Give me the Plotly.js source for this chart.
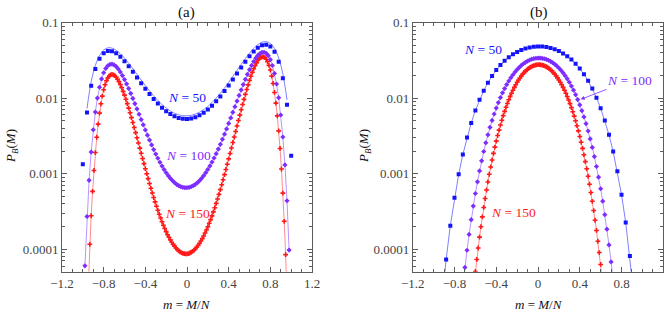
<!DOCTYPE html>
<html>
<head>
<meta charset="utf-8">
<script src="https://cdn.plot.ly/plotly-3.0.1.min.js"></script>
<style>
body{margin:0;background:#fff}
#chart svg text{font-family:"Times New Roman","Liberation Serif",serif !important;}
</style>
</head>
<body>
<div id="chart" style="width:671px;height:314px"></div>
<script>
// ---------- data: panel (a) ----------
const m50 = [-1,-0.96,-0.92,-0.88,-0.84,-0.8,-0.76,-0.72,-0.68,-0.64,-0.6,-0.56,-0.52,-0.48,-0.44,-0.4,-0.36,-0.32,-0.28,-0.24,-0.2,-0.16,-0.12,-0.08,-0.04,0,0.04,0.08,0.12,0.16,0.2,0.24,0.28,0.32,0.36,0.4,0.44,0.48,0.52,0.56,0.6,0.64,0.68,0.72,0.76,0.8,0.84,0.88,0.92,0.96,1];
const pA50 = [0.00134,0.006468,0.0146,0.02441,0.03334,0.03953,0.04227,0.04191,0.03928,0.03535,0.03089,0.02646,0.02239,0.01884,0.01584,0.01336,0.01136,0.009755,0.00849,0.007498,0.00674,0.006169,0.005758,0.005487,0.00534,0.005309,0.005394,0.005598,0.005934,0.006421,0.007085,0.007963,0.009105,0.01057,0.01243,0.01477,0.01768,0.02124,0.0255,0.03043,0.03589,0.04148,0.04657,0.05017,0.05112,0.04829,0.04114,0.03041,0.01837,0.008224,0.00173];

const mLineA50 = [-0.96,-0.92,-0.88,-0.84,-0.8,-0.76,-0.72,-0.68,-0.64,-0.6,-0.56,-0.52,-0.48,-0.44,-0.4,-0.36,-0.32,-0.28,-0.24,-0.2,-0.16,-0.12,-0.08,-0.04,0,0.04,0.08,0.12,0.16,0.2,0.24,0.28,0.32,0.36,0.4,0.44,0.48,0.52,0.56,0.6,0.64,0.68,0.72,0.76,0.8,0.84,0.88,0.92,0.96];
const pLineA50 = [0.0073,0.0165,0.0271,0.0367,0.0435,0.0465,0.0461,0.0432,0.0389,0.034,0.0291,0.0246,0.0207,0.01742,0.0147,0.0125,0.01073,0.00934,0.00825,0.00741,0.00679,0.00633,0.00604,0.00587,0.00584,0.00593,0.00616,0.00653,0.00706,0.00779,0.00876,0.01002,0.01163,0.01367,0.01625,0.01945,0.0234,0.0281,0.0335,0.0395,0.0456,0.0512,0.0552,0.0562,0.0531,0.0457,0.0341,0.0209,0.0095];

const mA100 = [-0.98,-0.96,-0.94,-0.92,-0.9,-0.88,-0.86,-0.84,-0.82,-0.8,-0.78,-0.76,-0.74,-0.72,-0.7,-0.68,-0.66,-0.64,-0.62,-0.6,-0.58,-0.56,-0.54,-0.52,-0.5,-0.48,-0.46,-0.44,-0.42,-0.4,-0.38,-0.36,-0.34,-0.32,-0.3,-0.28,-0.26,-0.24,-0.22,-0.2,-0.18,-0.16,-0.14,-0.12,-0.1,-0.08,-0.06,-0.04,-0.02,0,0.02,0.04,0.06,0.08,0.1,0.12,0.14,0.16,0.18,0.2,0.22,0.24,0.26,0.28,0.3,0.32,0.34,0.36,0.38,0.4,0.42,0.44,0.46,0.48,0.5,0.52,0.54,0.56,0.58,0.6,0.62,0.64,0.66,0.68,0.7,0.72,0.74,0.76,0.78,0.8,0.82,0.84,0.86,0.88,0.9,0.92,0.94,0.96,0.98];
const pA100 = [6.03e-5,2.715e-4,8.177e-4,0.001936,0.003824,0.006558,0.010034,0.01398,0.01801,0.02173,0.02477,0.02691,0.02806,0.02824,0.02757,0.02622,0.02438,0.02225,0.01997,0.01768,0.01548,0.01344,0.01158,0.009924,0.008472,0.007212,0.006135,0.005219,0.004444,0.003793,0.003245,0.002788,0.002407,0.002089,0.001824,0.001603,0.001419,0.001265,0.001137,0.0010314,9.433e-4,8.707e-4,8.111e-4,7.63e-4,7.248e-4,6.955e-4,6.742e-4,6.603e-4,6.533e-4,6.531e-4,6.599e-4,6.736e-4,6.947e-4,7.238e-4,7.62e-4,8.102e-4,8.7e-4,9.431e-4,0.001032,0.00114,0.00127,0.001427,0.001616,0.001844,0.002119,0.002452,0.002853,0.003339,0.003925,0.004632,0.005482,0.006503,0.007721,0.00917,0.010877,0.01287,0.01517,0.01778,0.0207,0.02388,0.02722,0.03063,0.03391,0.03685,0.03913,0.04048,0.04063,0.03935,0.03659,0.03241,0.02714,0.02128,0.01543,0.01018,0.005997,0.003066,0.001308,4.388e-4,9.77e-5];

const mA150 = [-0.96,-0.9467,-0.9333,-0.92,-0.9067,-0.8933,-0.88,-0.8667,-0.8533,-0.84,-0.8267,-0.8133,-0.8,-0.7867,-0.7733,-0.76,-0.7467,-0.7333,-0.72,-0.7067,-0.6933,-0.68,-0.6667,-0.6533,-0.64,-0.6267,-0.6133,-0.6,-0.5867,-0.5733,-0.56,-0.5467,-0.5333,-0.52,-0.5067,-0.4933,-0.48,-0.4667,-0.4533,-0.44,-0.4267,-0.4133,-0.4,-0.3867,-0.3733,-0.36,-0.3467,-0.3333,-0.32,-0.3067,-0.2933,-0.28,-0.2667,-0.2533,-0.24,-0.2267,-0.2133,-0.2,-0.1867,-0.1733,-0.16,-0.1467,-0.1333,-0.12,-0.1067,-0.0933,-0.08,-0.0667,-0.0533,-0.04,-0.0267,-0.0133,0,0.0133,0.0267,0.04,0.0533,0.0667,0.08,0.0933,0.1067,0.12,0.1333,0.1467,0.16,0.1733,0.1867,0.2,0.2133,0.2267,0.24,0.2533,0.2667,0.28,0.2933,0.3067,0.32,0.3333,0.3467,0.36,0.3733,0.3867,0.4,0.4133,0.4267,0.44,0.4533,0.4667,0.48,0.4933,0.5067,0.52,0.5333,0.5467,0.56,0.5733,0.5867,0.6,0.6133,0.6267,0.64,0.6533,0.6667,0.68,0.6933,0.7067,0.72,0.7333,0.7467,0.76,0.7733,0.7867,0.8,0.8133,0.8267,0.84,0.8533,0.8667,0.88,0.8933,0.9067,0.92,0.9333,0.9467,0.96];
const pA150 = [1.24e-5,4.18e-5,1.165e-4,2.78e-4,5.85e-4,0.001106,0.001909,0.003045,0.004535,0.006354,0.008435,0.01067,0.01294,0.01509,0.01701,0.01857,0.01972,0.02041,0.02064,0.02044,0.01986,0.01897,0.01785,0.01657,0.01517,0.01375,0.01234,0.01098,0.009686,0.008494,0.007399,0.006418,0.00554,0.004768,0.004091,0.003501,0.002994,0.002557,0.002183,0.001864,0.001593,0.001362,0.001166,0.001001,8.61e-4,7.42e-4,6.42e-4,5.57e-4,4.85e-4,4.24e-4,3.72e-4,3.28e-4,2.91e-4,2.59e-4,2.31e-4,2.08e-4,1.88e-4,1.71e-4,1.56e-4,1.44e-4,1.33e-4,1.24e-4,1.16e-4,1.10e-4,1.04e-4,9.94e-5,9.56e-5,9.25e-5,9.02e-5,8.85e-5,8.74e-5,8.70e-5,8.71e-5,8.78e-5,8.92e-5,9.12e-5,9.39e-5,9.73e-5,1.015e-4,1.066e-4,1.127e-4,1.199e-4,1.284e-4,1.384e-4,1.502e-4,1.639e-4,1.80e-4,1.988e-4,2.208e-4,2.467e-4,2.77e-4,3.128e-4,3.549e-4,4.049e-4,4.639e-4,5.337e-4,6.166e-4,7.154e-4,8.326e-4,9.724e-4,0.001139,0.001338,0.001575,0.001857,0.002193,0.002593,0.003067,0.003628,0.004292,0.005071,0.005982,0.007041,0.008265,0.009669,0.01126,0.01305,0.01504,0.01722,0.01955,0.0220,0.02453,0.02704,0.02942,0.03159,0.0334,0.03472,0.03541,0.03537,0.03452,0.03284,0.03037,0.02723,0.02359,0.01964,0.01568,0.01193,0.0086,0.005834,0.003695,0.002162,0.001155,5.546e-4,2.345e-4,8.50e-5,2.54e-5];

// ---------- data: panel (b) ----------
const mB50 = [-0.92,-0.88,-0.84,-0.8,-0.76,-0.72,-0.68,-0.64,-0.6,-0.56,-0.52,-0.48,-0.44,-0.4,-0.36,-0.32,-0.28,-0.24,-0.2,-0.16,-0.12,-0.08,-0.04,0,0.04,0.08,0.12,0.16,0.2,0.24,0.28,0.32,0.36,0.4,0.44,0.48,0.52,0.56,0.6,0.64,0.68,0.72,0.76,0.8,0.84,0.88,0.92];
const pB50 = [2.08e-5,7.347e-5,2.052e-4,4.808e-4,9.826e-4,0.001801,0.003019,0.004698,0.006867,0.009517,0.0126,0.01605,0.01975,0.0236,0.02746,0.03124,0.03481,0.03811,0.04104,0.04354,0.04556,0.04706,0.04803,0.04842,0.04825,0.04751,0.04622,0.04438,0.04204,0.03923,0.036,0.03246,0.02867,0.02475,0.02082,0.017,0.01342,0.01018,0.007379,0.005073,0.003275,0.001964,0.001076,5.29e-4,2.269e-4,8.166e-5,2.323e-5];

const mB100 = [-0.74,-0.72,-0.7,-0.68,-0.66,-0.64,-0.62,-0.6,-0.58,-0.56,-0.54,-0.52,-0.5,-0.48,-0.46,-0.44,-0.42,-0.4,-0.38,-0.36,-0.34,-0.32,-0.3,-0.28,-0.26,-0.24,-0.22,-0.2,-0.18,-0.16,-0.14,-0.12,-0.1,-0.08,-0.06,-0.04,-0.02,0,0.02,0.04,0.06,0.08,0.1,0.12,0.14,0.16,0.18,0.2,0.22,0.24,0.26,0.28,0.3,0.32,0.34,0.36,0.38,0.4,0.42,0.44,0.46,0.48,0.5,0.52,0.54,0.56,0.58,0.6,0.62,0.64,0.66,0.68,0.7,0.72,0.74];
const pB100 = [1.77e-5,3.269e-5,5.756e-5,9.706e-5,1.574e-4,2.463e-4,3.73e-4,5.479e-4,7.827e-4,0.00109,0.001482,0.001971,0.002567,0.003281,0.004119,0.005086,0.006182,0.007406,0.008755,0.010215,0.01178,0.01342,0.01514,0.0169,0.01869,0.02047,0.02225,0.02397,0.02561,0.02716,0.02861,0.02992,0.03107,0.03205,0.03285,0.03345,0.03385,0.03404,0.03401,0.03377,0.03332,0.03267,0.03182,0.03079,0.02959,0.02823,0.02674,0.02514,0.02345,0.02169,0.01989,0.01807,0.01627,0.01449,0.01278,0.011137,0.00959,0.008152,0.006838,0.005652,0.0046,0.003682,0.002894,0.002233,0.001687,0.001247,8.996e-4,6.326e-4,4.328e-4,2.872e-4,1.844e-4,1.143e-4,6.809e-5,3.887e-5,2.117e-5];

const mB150 = [-0.6267,-0.6133,-0.6,-0.5867,-0.5733,-0.56,-0.5467,-0.5333,-0.52,-0.5067,-0.4933,-0.48,-0.4667,-0.4533,-0.44,-0.4267,-0.4133,-0.4,-0.3867,-0.3733,-0.36,-0.3467,-0.3333,-0.32,-0.3067,-0.2933,-0.28,-0.2667,-0.2533,-0.24,-0.2267,-0.2133,-0.2,-0.1867,-0.1733,-0.16,-0.1467,-0.1333,-0.12,-0.1067,-0.0933,-0.08,-0.0667,-0.0533,-0.04,-0.0267,-0.0133,0,0.0133,0.0267,0.04,0.0533,0.0667,0.08,0.0933,0.1067,0.12,0.1333,0.1467,0.16,0.1733,0.1867,0.2,0.2133,0.2267,0.24,0.2533,0.2667,0.28,0.2933,0.3067,0.32,0.3333,0.3467,0.36,0.3733,0.3867,0.4,0.4133,0.4267,0.44,0.4533,0.4667,0.48,0.4933,0.5067,0.52,0.5333,0.5467,0.56,0.5733,0.5867,0.6,0.6133,0.6267];
const pB150 = [2.298e-5,3.45e-5,5.076e-5,7.327e-5,1.0396e-4,1.449e-4,1.989e-4,2.686e-4,3.577e-4,4.699e-4,6.088e-4,7.789e-4,9.847e-4,0.001231,0.001521,0.001861,0.002253,0.002701,0.003209,0.00378,0.004414,0.005112,0.005874,0.0067,0.007586,0.00853,0.009526,0.01057,0.01166,0.01277,0.01392,0.01508,0.01625,0.01741,0.01856,0.01969,0.02078,0.02183,0.02282,0.02375,0.0246,0.02536,0.02603,0.0266,0.02707,0.02743,0.02767,0.0278,0.02781,0.02769,0.02746,0.02712,0.02666,0.0261,0.02543,0.02467,0.02384,0.02291,0.02191,0.02086,0.01976,0.01862,0.01746,0.01628,0.0151,0.01393,0.01277,0.01164,0.01054,0.00948,0.008472,0.007516,0.006623,0.00579,0.005024,0.004324,0.00369,0.003119,0.002614,0.002169,0.001782,0.001449,0.001165,9.259e-4,7.269e-4,5.638e-4,4.315e-4,3.255e-4,2.421e-4,1.774e-4,1.278e-4,9.053e-5,6.299e-5,4.303e-5,2.88e-5];

// ---------- ticks ----------
const xTicks = [-1.2,-0.8,-0.4,0,0.4,0.8,1.2];
const xTickText = ['\u22121.2','\u22120.8','\u22120.4','0','0.4','0.8','1.2'];
const xMinor = [-1.1,-1,-0.9,-0.7,-0.6,-0.5,-0.3,-0.2,-0.1,0.1,0.2,0.3,0.5,0.6,0.7,0.9,1,1.1];
const yTicks = [0.0001,0.001,0.01,0.1];
const yTickText = ['0.0001','0.001','0.01','0.1'];
const yMinor = [6e-5,7e-5,8e-5,9e-5,2e-4,3e-4,4e-4,5e-4,6e-4,7e-4,8e-4,9e-4,0.002,0.003,0.004,0.005,0.006,0.007,0.008,0.009,0.02,0.03,0.04,0.05,0.06,0.07,0.08,0.09];

// ---------- styles ----------
const SERIF = 'Times New Roman';
const BLUE = 'rgb(20,20,250)', BLUE_L = 'rgb(95,95,255)';
const PURP = 'rgb(125,45,255)', PURP_L = 'rgb(165,120,255)';
const RED = 'rgb(255,25,25)', RED_L = 'rgb(255,110,110)';
const frame = '#5c5c5c';

function sq(x, y, xa, ya) { return {x, y, xaxis: xa, yaxis: ya, type: 'scatter', mode: 'markers', marker: {symbol: 'square', size: 4, color: BLUE}, hoverinfo: 'skip'}; }
function lm(x, y, xa, ya, sym, size, mc, lc) {
  return {x, y, xaxis: xa, yaxis: ya, type: 'scatter', mode: 'lines+markers',
    line: {color: lc, width: 0.8}, marker: {symbol: sym, size: size, color: mc}, hoverinfo: 'skip'};
}

const traces = [
  {x: mLineA50, y: pLineA50, xaxis: 'x', yaxis: 'y', type: 'scatter', mode: 'lines', line: {color: BLUE_L, width: 0.8, shape: 'spline'}, hoverinfo: 'skip'},
  lm(mA150, pA150, 'x', 'y', 'cross', 4, RED, RED_L),
  lm(mA100, pA100, 'x', 'y', 'diamond', 4, PURP, PURP_L),
  sq(m50, pA50, 'x', 'y'),
  lm(mB150, pB150, 'x2', 'y2', 'cross', 4, RED, RED_L),
  lm(mB100, pB100, 'x2', 'y2', 'diamond', 4, PURP, PURP_L),
  lm(mB50, pB50, 'x2', 'y2', 'square', 4, BLUE, BLUE_L)
];

function xax(domain, anchor) {
  return {domain, anchor, range: [-1.2, 1.2], tickmode: 'array', tickvals: xTicks, ticktext: xTickText,
    ticks: 'inside', ticklen: 5, tickwidth: 1, tickcolor: frame, showline: true, linecolor: frame, linewidth: 1,
    mirror: 'allticks', showgrid: false, zeroline: false,
    tickfont: {family: SERIF, size: 13},
    minor: {tickmode: 'array', tickvals: xMinor, ticks: 'inside', ticklen: 3, tickwidth: 1, tickcolor: frame, showgrid: false}};
}
function yax(anchor) {
  return {domain: [0.1347, 0.9277], anchor, type: 'log', range: [-4.297, -1], tickmode: 'array', tickvals: yTicks, ticktext: yTickText,
    ticks: 'inside', ticklen: 5, tickwidth: 1, tickcolor: frame, showline: true, linecolor: frame, linewidth: 1,
    mirror: 'allticks', showgrid: false, zeroline: false,
    tickfont: {family: SERIF, size: 13},
    minor: {tickmode: 'array', tickvals: yMinor, ticks: 'inside', ticklen: 3, tickwidth: 1, tickcolor: frame, showgrid: false}};
}

function txt(text, x, y, xref, yref, color, size, angle) {
  return {text, x, y, xref, yref, xanchor: 'center', yanchor: 'middle', showarrow: false,
    textangle: angle || 0, font: {family: SERIF, size: size, color: color}};
}
const annotations = [
  txt('(a)', 187 / 671, 1 - 13 / 314, 'paper', 'paper', '#111', 15),
  txt('(b)', 538.5 / 671, 1 - 13 / 314, 'paper', 'paper', '#111', 15),
  txt('<i>m</i> = <i>M</i>/<i>N</i>', 187 / 671, 1 - 304 / 314, 'paper', 'paper', '#111', 13),
  txt('<i>m</i> = <i>M</i>/<i>N</i>', 538.5 / 671, 1 - 304 / 314, 'paper', 'paper', '#111', 13),
  txt('<i>P</i><sub><i>B</i></sub>(<i>M</i>)', 11 / 671, 1 - 146 / 314, 'paper', 'paper', '#111', 13, -90),
  txt('<i>P</i><sub><i>B</i></sub>(<i>M</i>)', 364 / 671, 1 - 146 / 314, 'paper', 'paper', '#111', 13, -90),
  txt('<i>N</i> = 50', 0.0, -1.99, 'x', 'y', BLUE, 13.5),
  txt('<i>N</i> = 100', 0.01, -2.76, 'x', 'y', PURP, 13.5),
  txt('<i>N</i> = 150', 0.0, -3.525, 'x', 'y', RED, 13.5),
  txt('<i>N</i> = 50', -0.524, -1.352, 'x2', 'y2', BLUE, 13.5),
  txt('<i>N</i> = 150', -0.233, -3.516, 'x2', 'y2', RED, 13.5),
  {text: '<i>N</i> = 100', x: 0.409, y: -2.015, xref: 'x2', yref: 'y2', showarrow: true, ax: 49, ay: -19,
   arrowhead: 2, arrowsize: 1, arrowwidth: 0.8, arrowcolor: PURP, font: {family: SERIF, size: 13.5, color: PURP}}
];

const layout = {
  width: 671, height: 314, margin: {l: 0, r: 0, t: 0, b: 0},
  paper_bgcolor: '#fff', plot_bgcolor: '#fff', showlegend: false,
  xaxis: xax([0.0924, 0.465], 'y'), yaxis: yax('x'),
  xaxis2: xax([0.6151, 0.9885], 'y2'), yaxis2: yax('x2'),
  annotations
};

Plotly.newPlot('chart', traces, layout, {displayModeBar: false, staticPlot: true});
</script>
</body>
</html>
